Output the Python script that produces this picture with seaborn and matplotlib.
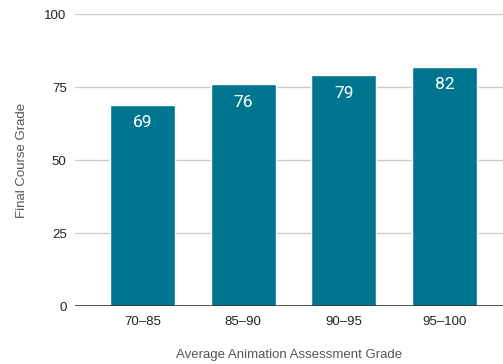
import matplotlib
matplotlib.use('Agg')
import matplotlib.pyplot as plt
import seaborn as sns
import pandas as pd

# 데이터
grade_bins = ['70–85', '85–90', '90–95', '95–100']
final_grades = [69, 76, 79, 82]
y_ticks = [0, 25, 50, 75, 100]

df = pd.DataFrame({'bin': grade_bins, 'grade': final_grades})

sns.set_theme(style='white')
plt.rcParams['font.family'] = ['Liberation Sans', 'DejaVu Sans']

fig = plt.figure(figsize=(5.03, 3.64), dpi=100)
ax = fig.add_axes([0.149, 0.159, 0.851, 0.8025])

bar_color = '#00758f'
sns.barplot(data=df, x='bin', y='grade', color=bar_color, width=0.645,
            saturation=1, ax=ax, zorder=3)

# 막대 안쪽 값 라벨
for i, v in enumerate(final_grades):
    ax.annotate(str(v), (i, v), xytext=(0, -13), textcoords='offset points',
                ha='center', va='center', color='white', fontsize=12.5,
                family=['Roboto', 'DejaVu Sans'], zorder=4)

ax.set_ylim(0, 100)
ax.set_xlim(-0.67, 3.58)
ax.set_yticks(y_ticks)
ax.yaxis.grid(True, color='#cccccc', linewidth=1)
ax.set_axisbelow(True)
ax.axhline(0, color='#333333', linewidth=1.2, zorder=5)

for s in ['top', 'right', 'left', 'bottom']:
    ax.spines[s].set_visible(False)

ax.tick_params(axis='both', length=0, labelsize=9.5, colors='#222222')
ax.tick_params(axis='y', pad=6)
ax.tick_params(axis='x', pad=7)
ax.set_xlabel('Average Animation Assessment Grade', fontsize=9.5, color='#555555', labelpad=15)
ax.set_ylabel('Final Course Grade', fontsize=9.5, color='#555555', labelpad=12)

plt.savefig('out.png', dpi=100)
plt.close()
